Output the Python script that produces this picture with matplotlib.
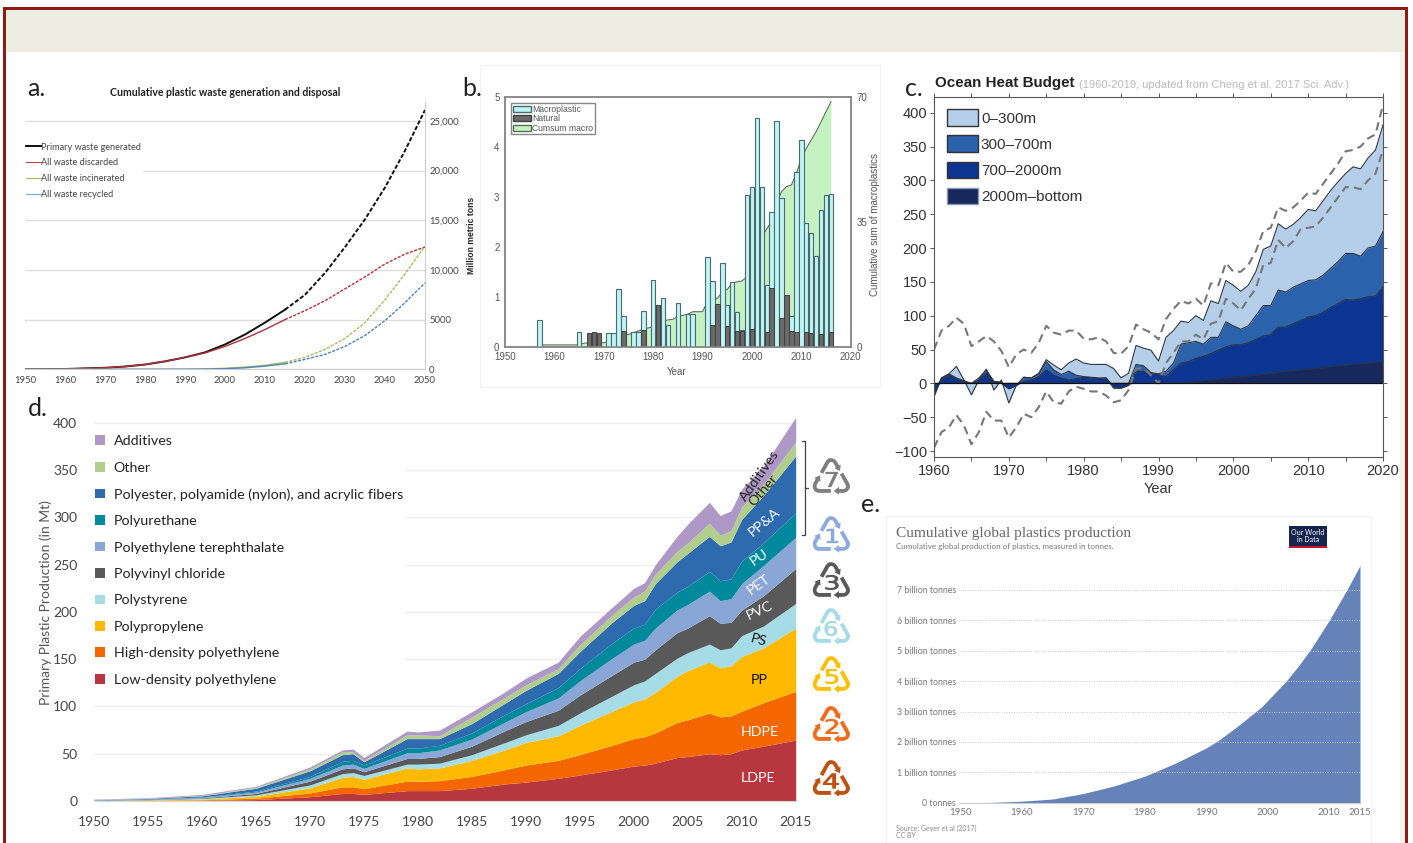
import numpy as np
import matplotlib
matplotlib.use('Agg')
import matplotlib.pyplot as plt
from matplotlib.patches import Patch, Rectangle
from matplotlib.lines import Line2D

W, H = 1413, 843

# panel a
waste_years = [1950, 1960, 1970, 1975, 1980, 1985, 1990, 1995, 2000, 2005, 2010, 2015,
               2020, 2025, 2030, 2035, 2040, 2045, 2050]
waste_primary = [0, 30, 150, 280, 480, 800, 1200, 1700, 2500, 3500, 4700, 6000,
                 7500, 9700, 12300, 15100, 18300, 22000, 26100]
waste_discarded = [0, 30, 150, 280, 480, 800, 1200, 1650, 2300, 3100, 4000, 5000,
                   5900, 6900, 8100, 9300, 10600, 11600, 12300]
waste_incinerated = [0, 0, 0, 0, 0, 2, 10, 40, 100, 220, 400, 700,
                     1200, 2000, 3100, 4700, 7000, 9600, 12400]
waste_recycled = [0, 0, 0, 0, 0, 1, 5, 20, 60, 150, 320, 550,
                  1000, 1500, 2300, 3400, 4900, 6700, 8700]

# panel b
macro_years = [1957, 1965, 1971, 1972, 1973, 1974, 1976, 1977, 1978, 1980, 1982, 1983, 1985,
               1987, 1988, 1991, 1992, 1994, 1995, 1996, 1997, 1998, 1999, 2000, 2001, 2002,
               2003, 2004, 2005, 2006, 2008, 2009, 2010, 2011, 2012, 2013, 2014, 2015, 2016]
macro_values = [0.54, 0.3, 0.28, 0.28, 1.16, 0.62, 0.3, 0.3, 0.72, 1.33, 0.98, 0.44, 0.87,
                0.65, 0.65, 1.8, 1.32, 1.68, 0.83, 1.29, 0.69, 0.33, 3.04, 3.2, 4.57, 3.2,
                1.23, 2.7, 4.52, 2.98, 0.62, 3.5, 4.13, 2.48, 2.27, 1.81, 2.73, 3.04, 3.05]
natural_years = [1967, 1968, 1969, 1974, 1978, 1981, 1992, 1993, 1995, 1997, 1998, 2000, 2003,
                 2004, 2006, 2007, 2008, 2009, 2011, 2012, 2014, 2016]
natural_values = [0.27, 0.3, 0.28, 0.31, 0.34, 0.83, 0.43, 0.85, 0.41, 0.32, 0.32, 0.35, 0.3,
                  1.18, 0.58, 1.03, 0.31, 0.3, 0.3, 0.28, 0.26, 0.29]
cumsum_years = [1957, 1965, 1966, 1970, 1972, 1974, 1975, 1978, 1980, 1982, 1983, 1984, 1985,
                1987, 1988, 1990, 1991, 1993, 1994, 1995, 1996, 1998, 1999, 2000, 2001, 2002,
                2003, 2004, 2005, 2006, 2007, 2008, 2009, 2010, 2011, 2012, 2013, 2014, 2015, 2016]
cumsum_values = [0.5, 0.5, 1, 1.1, 2, 3.5, 3.4, 4.9, 5.6, 7.2, 7.5, 7.7, 8.4,
                 9.1, 9.8, 9.8, 12.6, 13.5, 15.4, 16, 17.9, 18.4, 19.6, 23.3, 27, 30.8,
                 33, 35, 40, 43.4, 44.8, 45.3, 48.5, 52.7, 55.5, 57.9, 60.2, 63, 65.8, 68.6]

# panel c, one value per year 1960-2020
heat_years = list(range(1960, 2021))
heat_total = [-20, 8, 14, 25, 5, -17, 5, 21, -10, 5, -29, -3, 9, 8, 15, 35, 27, 20, 30, 36,
              30, 28, 28, 28, 22, 8, 15, 56, 52, 49, 33, 68, 78, 92, 90, 100, 93, 122, 118, 152,
              145, 136, 145, 165, 198, 203, 236, 228, 235, 245, 257, 255, 270, 285, 298, 310,
              320, 317, 333, 345, 382]
heat_700 = [-15, 8, 14, 8, 4, 0, 8, 20, 3, 2, -8, -3, 9, 8, 13, 32, 20, 13, 18, 12,
            10, 9, 8, 8, -4, -6, 0, 28, 26, 16, 14, 18, 30, 58, 60, 62, 58, 68, 68, 91,
            85, 80, 85, 100, 115, 115, 138, 135, 142, 147, 152, 153, 160, 170, 180, 192,
            192, 188, 200, 203, 224]
heat_2000 = [-15, 6, 12, 6, 2, 0, 5, 15, 2, 0, -8, -3, 3, 5, 10, 20, 12, 8, 5, 7,
             9, 8, 7, 8, -7, -7, -3, 17, 18, 14, 13, 10, 20, 30, 32, 37, 40, 44, 49, 54,
             57, 57, 60, 65, 70, 72, 83, 83, 88, 93, 98, 100, 105, 112, 118, 124,
             123, 125, 128, 129, 142]
heat_bottom = [0, 0, 0, 0, 0, 0, 0, 0, 0, 0, 0, 0, 0, 0, 0, 0, 0, 0, 0, 0,
               0, 0, 0, 0, 0, 0, 0, 0, 0, 0, 0, 0, 0, 0.5, 1, 2, 4, 5, 6.5, 8,
               9, 10, 11, 12, 13, 15, 16, 18, 19, 20, 21, 22, 23, 25, 26, 27,
               28, 29, 30, 31, 33]
heat_upper = [50, 78, 85, 97, 88, 55, 62, 70, 62, 48, 24, 43, 50, 45, 60, 85, 75, 72, 78, 78,
              66, 65, 68, 62, 45, 44, 55, 87, 80, 75, 65, 95, 110, 122, 118, 125, 115, 148, 145, 178,
              165, 165, 175, 195, 225, 230, 260, 255, 260, 270, 282, 280, 295, 310, 325, 343,
              345, 350, 362, 368, 412]
heat_lower = [-95, -72, -65, -47, -62, -90, -72, -42, -55, -55, -80, -65, -45, -50, -35, -12, -28, -30, -12, -5,
              -8, -12, -12, -18, -28, -25, -10, 22, 22, 12, 0, 30, 45, 62, 62, 72, 65, 88, 92, 125,
              118, 108, 125, 140, 175, 178, 212, 200, 210, 228, 230, 232, 245, 260, 275, 290,
              290, 287, 300, 310, 345]

# panel d, upper edge of each band
prod_years = [1950, 1955, 1960, 1965, 1970, 1973, 1974, 1975, 1979, 1980, 1982, 1985, 1988, 1990,
              1993, 1995, 1998, 2000, 2001, 2002, 2004, 2005, 2007, 2008, 2009, 2010, 2012, 2015]
ldpe = [0.1, 0.3, 0.7, 1.5, 4.5, 8, 8, 7, 11, 11, 11, 13.5, 18, 20,
        24, 27.5, 33, 37, 38, 40, 46, 47, 50, 49, 50, 54, 58, 64.5]
hdpe = [0.3, 0.6, 1.3, 3, 8.5, 15, 15, 13, 21, 21, 21.5, 26, 33, 38,
        43, 49, 59, 66, 68, 72, 83, 86, 93, 89, 90, 95, 104, 116]
pp = [0.5, 1.1, 2, 5, 14, 25, 26, 23, 35, 34, 35, 43, 54, 62,
      69, 80, 95, 105, 108, 115, 132, 138, 147, 141, 143, 153, 162, 183]
ps = [0.6, 1.3, 2.7, 6.5, 17, 29, 30, 27, 39, 39, 40, 49, 61.5, 70,
      80, 93, 111, 123, 127, 135, 151, 157, 166, 160, 162, 175, 185, 209]
pvc = [0.7, 1.6, 3.3, 8, 21, 34, 35, 31, 45, 45, 47, 58, 74, 84,
       96, 112, 133, 147, 150, 160, 178, 183, 196, 188, 189, 202, 217, 246]
pet = [0.8, 1.9, 3.9, 9.5, 24, 38, 39, 34.5, 51, 51, 54, 65.6, 83, 94.5,
       109, 127, 151, 166, 170, 183, 202, 208, 222, 212, 214, 230, 249, 279]
pu = [0.9, 2.1, 4.3, 10.5, 26, 42, 43, 38, 56, 56, 59, 72, 91, 103,
      120, 140, 167, 183, 187, 203, 221, 227, 243, 233, 235, 254, 273, 305]
ppa = [1.2, 2.7, 5.5, 13.5, 32, 49, 50, 41.5, 66, 66, 66, 82, 103, 117,
       135, 158, 189, 207, 212, 230, 253, 262, 280, 270, 274, 298, 323, 365]
other = [1.5, 3, 6, 14.5, 34, 52, 52, 43, 70, 70, 69, 89, 109, 123,
         140, 165, 197, 216, 222, 240, 264, 273, 294, 281, 286, 311, 335, 380]
additives = [2, 3.5, 7, 15.5, 36, 54, 55, 46, 74, 73, 75, 94.5, 115, 130,
             147, 174, 205, 225, 231, 250, 280, 293, 316, 302, 307, 330, 354, 406]
prod_names = ['Low-density polyethylene', 'High-density polyethylene', 'Polypropylene', 'Polystyrene',
              'Polyvinyl chloride', 'Polyethylene terephthalate', 'Polyurethane',
              'Polyester, polyamide (nylon), and acrylic fibers', 'Other', 'Additives']
prod_colors = ['#B8373E', '#F46600', '#FFB900', '#A6DCE6', '#595959', '#8AA6D6', '#00889C',
               '#2E6BAE', '#B2CE8C', '#AE98C6']

# panel e
total_years = [1950, 1955, 1960, 1965, 1970, 1975, 1980, 1985, 1990, 1992, 1995, 1999, 2003,
               2005, 2007, 2010, 2013, 2015]
total_billion = [0, 0.01, 0.05, 0.12, 0.3, 0.55, 0.87, 1.3, 1.8, 2.05, 2.5, 3.15, 4.0,
                 4.5, 5.05, 6.0, 7.05, 7.8]


def panel(left, top, right, bottom):
    return fig.add_axes([left / W, 1 - bottom / H, (right - left) / W, (bottom - top) / H])


fig = plt.figure(figsize=(W / 100, H / 100), dpi=100, facecolor='white')

# page furniture, in pixels
page = fig.add_axes([0, 0, 1, 1], zorder=10)
page.set_xlim(0, W)
page.set_ylim(H, 0)
page.axis('off')
page.patch.set_alpha(0)
page.add_patch(Rectangle((6, 10), 1399, 42, color='#EEEDE4', lw=0))
page.add_patch(Rectangle((1400, 52), 5, H - 52, color='#F3F2EC', lw=0))
page.add_patch(Rectangle((3, 7), 3, H, color='#8E1B12', lw=0))
page.add_patch(Rectangle((3, 7), 1405, 3, color='#8E1B12', lw=0))
page.add_patch(Rectangle((1405, 7), 3, H, color='#8E1B12', lw=0))
for name, x, y in [('a.', 27, 88), ('b.', 462, 88), ('c.', 905, 89), ('d.', 28, 408), ('e.', 861, 504)]:
    page.text(x, y, name, family='Lato', fontsize=18, color='#222222', va='center')

# a.
ax_a = panel(25, 102, 425, 369.3)
ax_a.set_xlim(1950, 2050)
ax_a.set_ylim(0, 26900)
years = np.array(waste_years)
solid = years <= 2015
dashed = years >= 2015
for values, color, lw in [(waste_primary, '#111111', 1.4), (waste_discarded, '#B5303A', 1.0),
                          (waste_incinerated, '#A3BC5E', 1.0), (waste_recycled, '#4F81BD', 1.0)]:
    values = np.array(values)
    ax_a.plot(years[solid], values[solid], color=color, lw=lw)
    ax_a.plot(years[dashed], values[dashed], color=color, lw=lw, ls=(0, (2.2, 1)))
for spine in ['top', 'left']:
    ax_a.spines[spine].set_visible(False)
for spine in ['right', 'bottom']:
    ax_a.spines[spine].set_color('#CCCCCC')
ax_a.yaxis.tick_right()
ax_a.set_yticks([0, 5000, 10000, 15000, 20000, 25000],
                ['0', '5000', '10,000', '15,000', '20,000', '25,000'])
ax_a.set_xticks(range(1950, 2051, 10))
ax_a.tick_params(length=0, labelsize=6.8, labelcolor='#444444', pad=3)
ax_a.tick_params(axis='x', pad=5)
for lab in ax_a.get_xticklabels() + ax_a.get_yticklabels():
    lab.set_family('Lato')
ax_a.grid(axis='y', color='#DDDDDD', lw=0.9)
ax_a.set_axisbelow(True)
ax_a.legend(
    [Line2D([], [], color=c, lw=w) for c, w in [('#111111', 1.4), ('#C0404A', 0.8),
                                                ('#A3BC5E', 0.8), ('#7FA8D0', 0.8)]],
    ['Primary waste generated', 'All waste discarded', 'All waste incinerated', 'All waste recycled'],
    loc='upper left', bbox_to_anchor=(-0.002, 0.855), borderaxespad=0, borderpad=0.2,
    handlelength=1.6, handletextpad=0, labelspacing=0.74,
    prop={'family': 'Lato', 'size': 6.6}, frameon=True, facecolor='white', edgecolor='white',
    framealpha=1, fancybox=False, labelcolor='#444444')
page.text(225, 92.5, 'Cumulative plastic waste generation and disposal', family='Lato',
          fontsize=7.6, weight='bold', color='#222222', ha='center', va='center')

# b.
page.add_patch(Rectangle((480, 65), 400, 322, fill=False, ec='#F2F2F2', lw=0.8))
ax_b = panel(505, 96.7, 850.7, 346.7)
ax_b2 = ax_b.twinx()
ax_b.set_zorder(ax_b2.get_zorder() + 1)
ax_b.patch.set_visible(False)
ax_b2.fill_between(cumsum_years, 0, cumsum_values, color='#C6F2C2', lw=0)
ax_b2.plot(cumsum_years, cumsum_values, color='#566E56', lw=0.8)
ax_b2.set_ylim(0, 70)
ax_b2.set_yticks([0, 35, 70])
ax_b.bar(macro_years, macro_values, width=0.9, color='#C0F5F5', edgecolor='#4A6A6C', lw=0.8)
ax_b.bar(natural_years, natural_values, width=0.9, color='#6A6A6A', edgecolor='#404040', lw=0.7)
ax_b.set_xlim(1950, 2020)
ax_b.set_ylim(0, 5)
ax_b.set_xticks(range(1950, 2021, 10))
ax_b.set_yticks(range(0, 6))
for a in [ax_b, ax_b2]:
    a.tick_params(length=0, labelsize=7, labelcolor='#555555', pad=4)
    for lab in a.get_xticklabels() + a.get_yticklabels():
        lab.set_family('Liberation Sans')
    for spine in a.spines.values():
        spine.set_color('#888888')
        spine.set_linewidth(1.1)
ax_b.legend([Patch(fc='#C0F5F5', ec='#4A6A6C'), Patch(fc='#6A6A6A', ec='#404040'),
             Patch(fc='#C6F2C2', ec='#566E56')],
            ['Macroplastic', 'Natural', 'Cumsum macro'],
            loc='upper left', bbox_to_anchor=(0.017, 0.975), borderaxespad=0, borderpad=0.2,
            handlelength=2.1, handletextpad=0.15, labelspacing=0.05, fancybox=False,
            framealpha=1, edgecolor='#888888', labelcolor='#555555',
            prop={'family': 'Liberation Sans', 'size': 6.2})
page.text(677, 372, 'Year', family='Liberation Sans', fontsize=7, color='#555555', ha='center', va='center')
page.text(471, 235, 'Million metric tons', family='Liberation Sans', fontsize=6.2, weight='bold',
          color='#222222', rotation=90, ha='center', va='center')
page.text(874.5, 225, 'Cumulative sum of macroplastics', family='Liberation Sans', fontsize=7,
          color='#555555', rotation=90, ha='center', va='center')

# c.
ax_c = panel(934, 96.7, 1383, 456.7)
for values, color in [(heat_total, '#B5CFEA'), (heat_700, '#2A62AC'),
                      (heat_2000, '#0B3590'), (heat_bottom, '#17285C')]:
    ax_c.fill_between(heat_years, 0, values, color=color, lw=0)
    ax_c.plot(heat_years, values, color='#2B3340', lw=0.8)
ax_c.plot(heat_years, heat_upper, color='#777777', lw=1.5, ls=(0, (4, 2.5)))
ax_c.plot(heat_years, heat_lower, color='#777777', lw=1.5, ls=(0, (4, 2.5)))
ax_c.axhline(0, color='#111111', lw=0.9)
ax_c.set_xlim(1960, 2020)
ax_c.set_ylim(-108.4, 423.7)
ax_c.set_xticks(range(1960, 2021, 10))
ax_c.set_xticks(range(1960, 2021, 5), minor=True)
ax_c.set_yticks(range(-100, 401, 50), [str(v).replace('-', '\u2212') for v in range(-100, 401, 50)])
ax_c.tick_params(which='both', top=True, right=True, length=3, width=0.7, color='#555555',
                 labelsize=10.5, labelcolor='#333333', pad=2)
ax_c.tick_params(axis='x', pad=2)
for lab in ax_c.get_xticklabels() + ax_c.get_yticklabels():
    lab.set_family('Liberation Sans')
for spine in ax_c.spines.values():
    spine.set_color('#555555')
    spine.set_linewidth(0.8)
ax_c.set_xlabel('Year', family='Liberation Sans', fontsize=10.5, color='#333333', labelpad=3)
ax_c.legend([Patch(fc='#B5CFEA', ec='#333333'), Patch(fc='#2A62AC', ec='#333333'),
             Patch(fc='#0B3590', ec='#333333'), Patch(fc='#17285C', ec='#8899AA')],
            ['0\u2013300m', '300\u2013700m', '700\u20132000m', '2000m\u2013bottom'],
            loc='upper left', bbox_to_anchor=(0.028, 0.965), borderaxespad=0, borderpad=0,
            handlelength=2.05, handleheight=1.3, handletextpad=0.2, labelspacing=0.62,
            frameon=False, labelcolor='#333333', prop={'family': 'Liberation Sans', 'size': 11})
page.text(935, 83, 'Ocean Heat Budget', family='Liberation Sans', fontsize=10.9, weight='bold',
          color='#222222', va='center')
page.text(1079, 84.5, '(1960-2019, updated from Cheng et al. 2017 Sci. Adv.)', family='Liberation Sans',
          fontsize=8, color='#BBBBBB', va='center')

# d.
ax_d = panel(94, 404, 795.7, 801)
ax_d.set_xlim(1950, 2015)
ax_d.set_ylim(0, 420)
bands = [ldpe, hdpe, pp, ps, pvc, pet, pu, ppa, other, additives]
lower = np.zeros(len(prod_years))
handles = []
for band, color in zip(bands, prod_colors):
    ax_d.fill_between(prod_years, lower, band, color=color, lw=0)
    lower = np.array(band)
    handles.append(Patch(fc=color, ec='none'))
for spine in ax_d.spines.values():
    spine.set_visible(False)
ax_d.spines['bottom'].set_visible(True)
ax_d.spines['bottom'].set_color('#D8D8D8')
ax_d.set_xticks(range(1950, 2016, 5))
ax_d.set_yticks(range(0, 401, 50))
ax_d.tick_params(length=0, labelsize=10, labelcolor='#444444', pad=12)
ax_d.tick_params(axis='x', pad=11)
for lab in ax_d.get_xticklabels() + ax_d.get_yticklabels():
    lab.set_family('Lato')
ax_d.grid(axis='y', color='#EDEDED', lw=0.9)
ax_d.set_axisbelow(True)
ax_d.set_ylabel('Primary Plastic Production (in Mt)', family='Lato', fontsize=10, color='#555555', labelpad=1)
ax_d.legend(handles[::-1], prod_names[::-1], loc='upper left', bbox_to_anchor=(0, 0.925),
            borderaxespad=0, borderpad=0.1, handlelength=0.67, handleheight=0.67, handletextpad=0.6,
            labelspacing=1.01, fancybox=False, framealpha=1, facecolor='white', edgecolor='white',
            labelcolor='#222222', prop={'family': 'Lato', 'size': 10.3})
for label, x, y, rot, color in [('Additives', 760, 476, 55, '#222222'), ('Other', 763, 490, 50, '#222222'),
                                ('PP&A', 764, 522, 40, 'white'), ('PU', 759, 557, 35, 'white'),
                                ('PET', 759, 585, 35, 'white'), ('PVC', 760, 611, 25, 'white'),
                                ('PS', 759, 640, -15, '#111111'), ('PP', 759, 680, 0, '#111111'),
                                ('HDPE', 760, 732, 0, 'white'), ('LDPE', 758, 778, 0, 'white')]:
    page.text(x, y, label, family='Lato', fontsize=10.3, color=color, rotation=rot,
              rotation_mode='anchor', ha='center', va='center')
page.plot([802, 805, 805, 802], [441, 441, 535, 535], color='#444444', lw=0.9)
page.plot([805, 808], [488, 488], color='#444444', lw=0.9)
for glyph, y, color in [('\u2679', 481, '#7F7F7F'), ('\u2673', 539, '#8FAADC'), ('\u2675', 585, '#595959'),
                        ('\u2678', 631, '#A5DCE6'), ('\u2677', 679, '#FFC000'), ('\u2674', 729, '#F26A1B'),
                        ('\u2676', 783, '#C0500F')]:
    page.text(831, y, glyph, family='DejaVu Sans', fontsize=36, color=color, ha='center', va='center')

# e.
page.add_patch(Rectangle((886, 516), 485, 330, fill=False, ec='#F2F2F2', lw=0.8))
ax_e = panel(960, 560, 1360, 802.7)
ax_e.set_xlim(1950, 2015)
ax_e.set_ylim(0, (802.7 - 560) / 30.4)
ax_e.fill_between(total_years, 0, total_billion, color='#6583B8', lw=0)
for spine in ['top', 'left', 'right']:
    ax_e.spines[spine].set_visible(False)
ax_e.spines['bottom'].set_color('#CCCCCC')
ax_e.set_xticks([1950, 1960, 1970, 1980, 1990, 2000, 2010, 2015])
ax_e.set_yticks(range(0, 8), ['0 tonnes'] + [f'{v} billion tonnes' for v in range(1, 8)])
ax_e.tick_params(length=0, labelsize=6.3, labelcolor='#777777', pad=3)
ax_e.tick_params(axis='x', labelsize=7, pad=4)
for lab in ax_e.get_xticklabels() + ax_e.get_yticklabels():
    lab.set_family('Lato')
ax_e.grid(axis='y', color='#CCCCCC', lw=0.7, ls=(0, (1, 1.5)))
page.text(896, 533, 'Cumulative global plastics production', family='Liberation Serif', fontsize=11.1,
          color='#666666', va='center')
page.text(896, 546.5, 'Cumulative global production of plastics, measured in tonnes.', family='Lato',
          fontsize=5.8, color='#777777', va='center')
page.text(896, 828, 'Source: Geyer et al (2017)', family='Lato', fontsize=5, color='#888888', va='center')
page.text(896, 835.5, 'CC BY', family='Lato', fontsize=5, color='#888888', va='center')
page.add_patch(Rectangle((1289, 526), 38, 22, color='#14244F', lw=0))
page.add_patch(Rectangle((1289, 546), 38, 2, color='#D0102A', lw=0))
page.text(1308, 536, 'Our World\nin Data', family='Lato', fontsize=5, color='white', ha='center',
          va='center', linespacing=1.0)

fig.savefig('out.png', dpi=100)
